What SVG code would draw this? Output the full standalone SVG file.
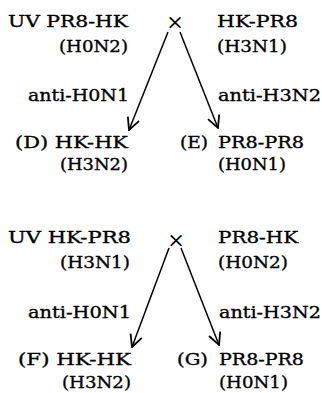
<svg xmlns="http://www.w3.org/2000/svg" width="322" height="393" viewBox="0 0 322 393">
<style>
text{font-family:"DejaVu Serif","Liberation Serif",serif;font-size:17px;fill:#000;stroke:#000;stroke-width:0.35}
.c{stroke:#000;stroke-width:1.5;fill:none}
.x{font-size:21px;text-anchor:middle;stroke:none}
</style>
<defs>
<marker id="ah" viewBox="0 0 14 14" refX="13" refY="7" markerWidth="14" markerHeight="14" markerUnits="userSpaceOnUse" orient="auto">
<path d="M1,1 L13,7 L1,13" fill="none" stroke="#000" stroke-width="1.8"/>
</marker>
</defs>
<rect width="322" height="393" fill="#fff"/>
<g id="panel1">
<g id="uv1"><text x="8" y="27" textLength="120" lengthAdjust="spacingAndGlyphs">UV PR8-HK</text><text x="59" y="52" textLength="69" lengthAdjust="spacingAndGlyphs">(H0N2)</text></g>
<g id="cross1"><text class="x" x="175" y="28.5">×</text></g>
<g id="p1"><text x="217" y="27" textLength="81" lengthAdjust="spacingAndGlyphs">HK-PR8</text><text x="217" y="52" textLength="70" lengthAdjust="spacingAndGlyphs">(H3N1)</text></g>
<g id="D"><text x="15" y="148" textLength="113" lengthAdjust="spacingAndGlyphs">(D) HK-HK</text><text x="60" y="170" textLength="68" lengthAdjust="spacingAndGlyphs">(H3N2)</text></g>
<g id="E"><text x="180" y="148" textLength="28" lengthAdjust="spacingAndGlyphs">(E)</text><text x="218" y="148" textLength="86" lengthAdjust="spacingAndGlyphs">PR8-PR8</text><text x="218" y="170" textLength="68" lengthAdjust="spacingAndGlyphs">(H0N1)</text></g>
</g>
<g id="panel2">
<g id="uv2"><text x="8" y="243" textLength="123" lengthAdjust="spacingAndGlyphs">UV HK-PR8</text><text x="60" y="268" textLength="70" lengthAdjust="spacingAndGlyphs">(H3N1)</text></g>
<g id="cross2"><text class="x" x="176" y="246.5">×</text></g>
<g id="p2"><text x="218" y="243" textLength="80" lengthAdjust="spacingAndGlyphs">PR8-HK</text><text x="218" y="268" textLength="70" lengthAdjust="spacingAndGlyphs">(H0N2)</text></g>
<g id="F"><text x="18" y="365" textLength="113" lengthAdjust="spacingAndGlyphs">(F) HK-HK</text><text x="62" y="388" textLength="69" lengthAdjust="spacingAndGlyphs">(H3N2)</text></g>
<g id="G"><text x="177" y="365" textLength="31" lengthAdjust="spacingAndGlyphs">(G)</text><text x="219" y="365" textLength="85" lengthAdjust="spacingAndGlyphs">PR8-PR8</text><text x="219" y="388" textLength="69" lengthAdjust="spacingAndGlyphs">(H0N1)</text></g>
</g>
<g id="connectors">
<line class="c" x1="168" y1="32" x2="129" y2="130" marker-end="url(#ah)"/>
<line class="c" x1="180" y1="32" x2="218" y2="128" marker-end="url(#ah)"/>
<line class="c" x1="169" y1="248" x2="132" y2="347" marker-end="url(#ah)"/>
<line class="c" x1="181" y1="248" x2="219" y2="345" marker-end="url(#ah)"/>
<text x="28" y="101" textLength="101" lengthAdjust="spacingAndGlyphs">anti-H0N1</text>
<text x="218" y="101" textLength="103" lengthAdjust="spacingAndGlyphs">anti-H3N2</text>
<text x="28" y="318" textLength="103" lengthAdjust="spacingAndGlyphs">anti-H0N1</text>
<text x="219" y="318" textLength="102" lengthAdjust="spacingAndGlyphs">anti-H3N2</text>
</g>
</svg>
